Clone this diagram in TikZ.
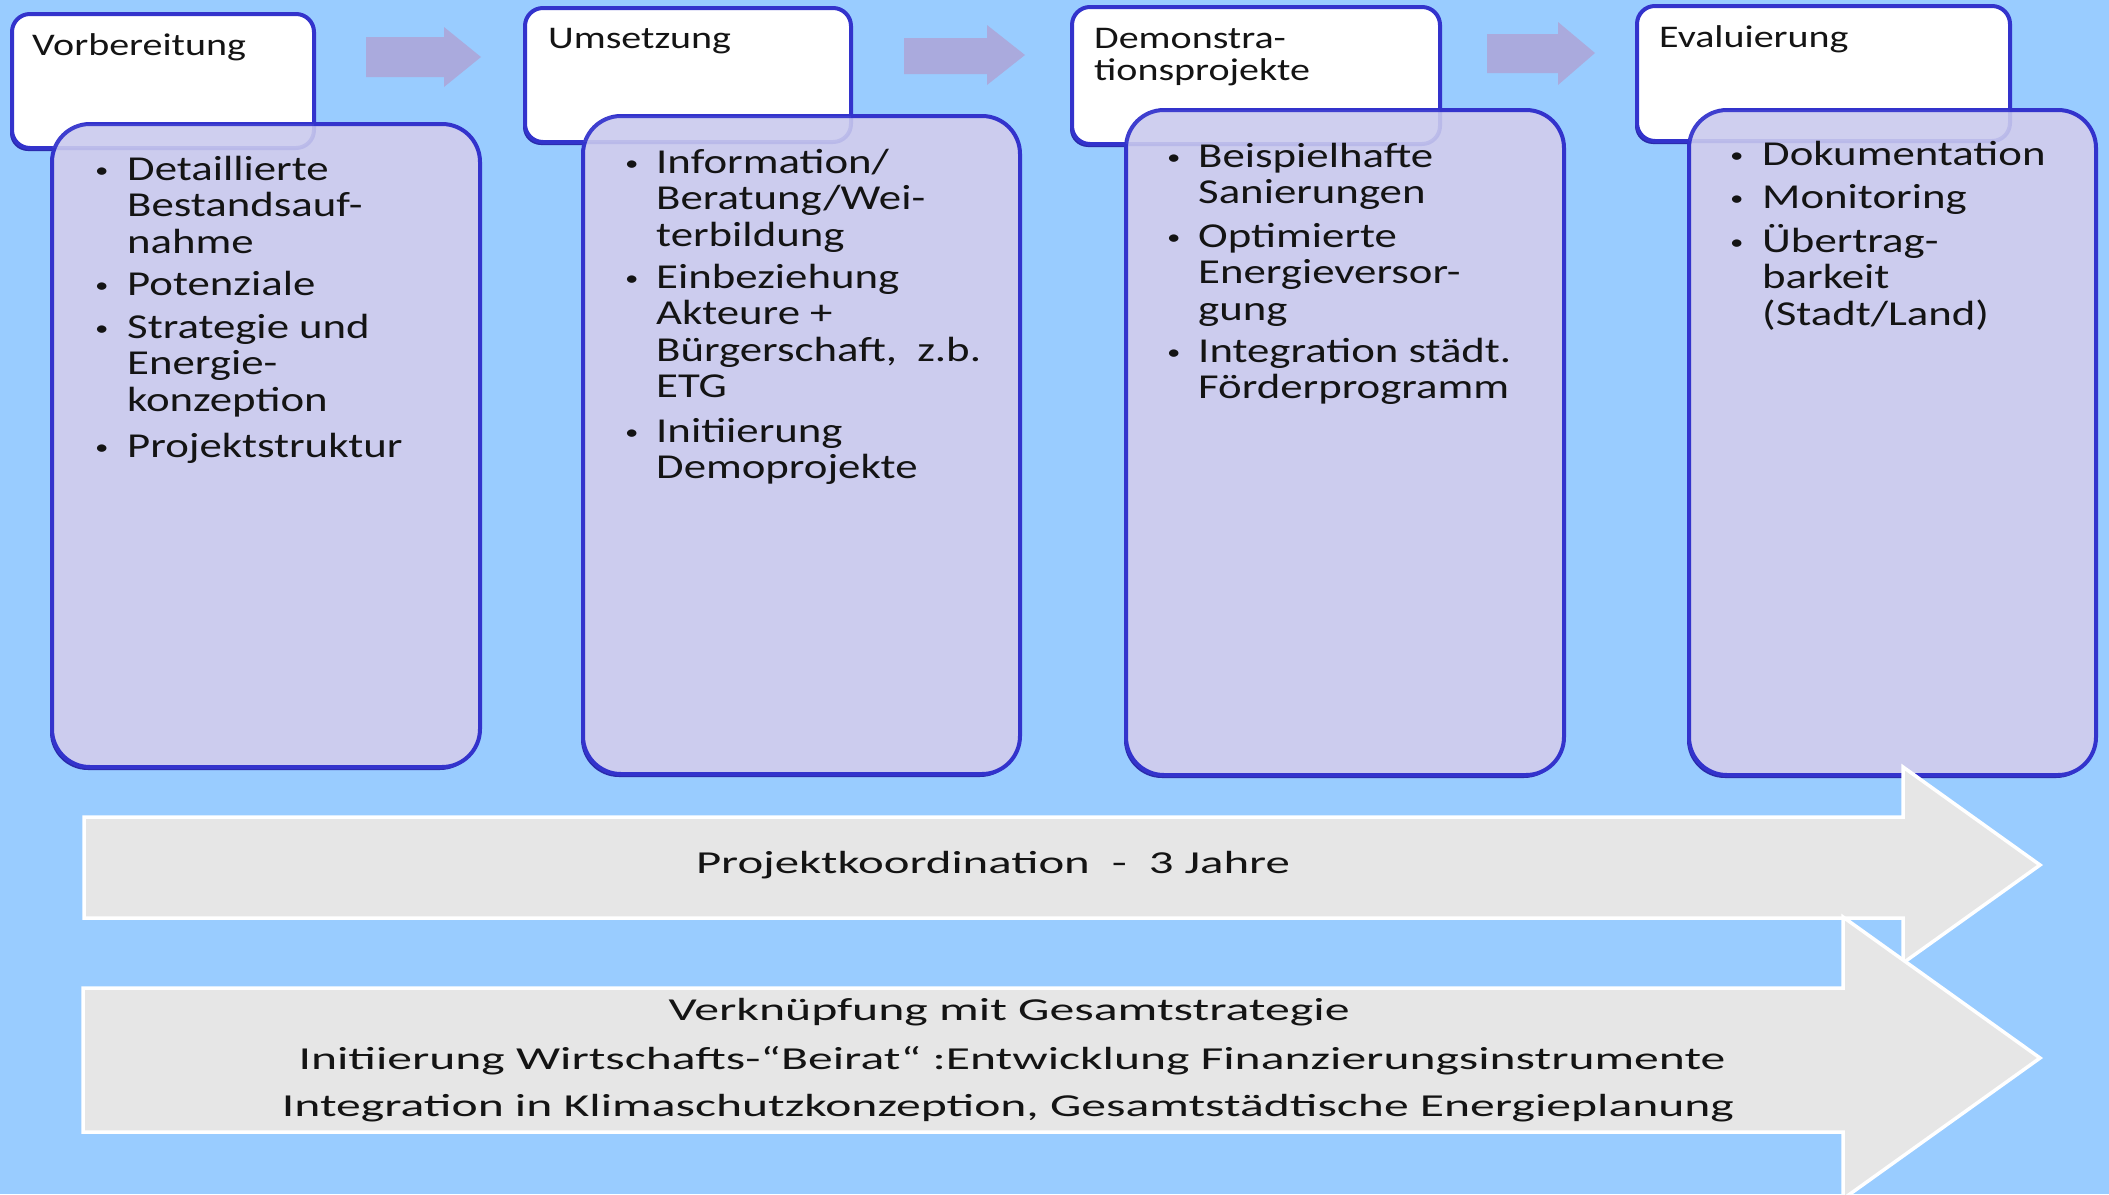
\documentclass[tikz,border=0pt]{standalone}
\usepackage{fontspec}
\usepackage{graphicx}
\usetikzlibrary{shadows}
\newfontfamily\labfont{Carlito}[FakeStretch=1.27]
\newfontfamily\itmfont{Carlito}[FakeStretch=1.28]
\newfontfamily\arrfont{Carlito}
\definecolor{bgblue}{HTML}{99CCFF}
\definecolor{boxblue}{HTML}{3333CC}
\definecolor{boxdark}{HTML}{2A2AAA}
\definecolor{lav}{HTML}{CCCCEE}
\definecolor{arrpurple}{HTML}{AAAADD}
\definecolor{arrgrey}{HTML}{E6E6E6}
\definecolor{txt}{HTML}{141414}
\newcommand\itm[1]{\begin{tabular}[t]{@{}l@{}}#1\end{tabular}}
\newcommand\bul[2]{\makebox[#1][l]{\hspace{3pt}\raisebox{3pt}{\scalebox{0.6}{\textbullet}}}\itm{#2}}
\tikzset{
  topbox/.style={fill=white, draw=boxblue, line width=4pt, rounded corners=18pt,
    inner sep=0pt, outer sep=0pt, anchor=north west,
    drop shadow={shadow xshift=-2pt, shadow yshift=-3pt, fill=boxdark, opacity=1}},
  ghost/.style={draw=boxblue, draw opacity=0.12, fill=white, fill opacity=0.06, line width=4pt, rounded corners=18pt},
  contbox/.style={fill=lav, draw=boxblue, line width=4pt, rounded corners=38pt,
    inner sep=0pt, outer sep=0pt, anchor=north west,
    drop shadow={shadow xshift=-2pt, shadow yshift=-3pt, fill=boxdark, opacity=1}},
  lbl/.style={inner sep=0pt, anchor=base west, text=txt, font=\labfont\fontsize{31.5}{32}\selectfont},
  itemtxt/.style={inner sep=0pt, anchor=base west, text=txt, font=\itmfont\fontsize{35}{36.5}\selectfont},
  smallarr/.style={fill=arrpurple},
  bigarr/.style={fill=arrgrey, draw=white, line width=3.5pt, line join=miter},
  arrtxt/.style={inner sep=0pt, anchor=base, text=txt, font=\arrfont\fontsize{32}{34}\selectfont}
}
\begin{document}
\begin{tikzpicture}[x=1pt,y=-1pt]
\useasboundingbox (0,0) rectangle (2109,1194);
\clip (0,0) rectangle (2109,1194);
\fill[bgblue] (0,0) rectangle (2109,1194);

% small process arrows
\fill[smallarr] (366,37) -- (444,37) -- (444,27) -- (481,57) -- (444,87) -- (444,77) -- (366,77) -- cycle;
\fill[smallarr] (904,38) -- (987,38) -- (987,25) -- (1025,55) -- (987,85) -- (987,74) -- (904,74) -- cycle;
\fill[smallarr] (1487,34) -- (1558,34) -- (1558,22) -- (1595,53) -- (1558,85) -- (1558,73) -- (1487,73) -- cycle;

% header boxes
\node[topbox, minimum width=302pt, minimum height=134pt] (tb1) at (12,14) {};
\node[topbox, minimum width=326pt, minimum height=134pt] (tb2) at (525,8) {};
\node[topbox, minimum width=368pt, minimum height=137pt] (tb3) at (1072,7) {};
\node[topbox, minimum width=373pt, minimum height=135pt] (tb4) at (1637,6) {};

\node[lbl] (l1) at (32,55) {Vorbereitung};
\node[lbl] (l2) at (548,48) {Umsetzung};
\node[lbl] (l3) at (1094,48) {\begin{tabular}[t]{@{}l@{}}Demonstra-\\tionsprojekte\end{tabular}};
\node[lbl] (l4) at (1659,47) {Evaluierung};

% content boxes
\node[contbox, minimum width=428pt, minimum height=643pt] (cb1) at (52,124) {};
\node[contbox, minimum width=437pt, minimum height=658pt] (cb2) at (583,116) {};
\node[contbox, minimum width=438pt, minimum height=665pt] (cb3) at (1126,110) {};
\node[contbox, minimum width=407pt, minimum height=665pt] (cb4) at (1689,110) {};

% faint outline of the header boxes seen through the content boxes
\foreach \t/\c in {tb1/cb1, tb2/cb2, tb3/cb3, tb4/cb4}{
  \begin{scope}
    \clip (\c.north west) rectangle (\c.south east);
    \draw[ghost] (\t.north west) rectangle (\t.south east);
  \end{scope}
}

% items box 1
\node[itemtxt] (i11) at (92,180) {\bul{35pt}{Detaillierte\\Bestandsauf-\\nahme}};
\node[itemtxt] (i12) at (92,295) {\bul{35pt}{Potenziale}};
\node[itemtxt] (i13) at (92,338) {\bul{35pt}{Strategie und\\Energie-\\konzeption}};
\node[itemtxt] (i14) at (92,457) {\bul{35pt}{Projektstruktur}};
% items box 2
\node[itemtxt] (i21) at (622,173) {\bul{34pt}{Information/\\Beratung/Wei-\\terbildung}};
\node[itemtxt] (i22) at (622,288) {\bul{34pt}{Einbeziehung\\Akteure +\\Bürgerschaft,\ \ z.b.\\ETG}};
\node[itemtxt] (i23) at (622,442) {\bul{34pt}{Initiierung\\Demoprojekte}};
% items box 3
\node[itemtxt] (i31) at (1164,167) {\bul{34pt}{Beispielhafte\\Sanierungen}};
\node[itemtxt] (i32) at (1164,247) {\bul{34pt}{Optimierte\\Energieversor-\\gung}};
\node[itemtxt] (i33) at (1164,362) {\bul{34pt}{Integration städt.\\Förderprogramm}};
% items box 4
\node[itemtxt] (i41) at (1727,165) {\bul{35pt}{Dokumentation}};
\node[itemtxt] (i42) at (1727,208) {\bul{35pt}{Monitoring}};
\node[itemtxt] (i43) at (1727,252) {\bul{35pt}{Übertrag-\\barkeit\\(Stadt/Land)}};

% big arrows
\draw[bigarr] (84,817) -- (1903,817) -- (1903,767) -- (2040,865) -- (1903,963) -- (1903,918) -- (84,918) -- cycle;
\draw[bigarr] (83,988) -- (1843,988) -- (1843,917) -- (2040,1058) -- (1843,1199) -- (1843,1132) -- (83,1132) -- cycle;

\node[arrtxt] (pk) at (993,873) {\resizebox{594pt}{\height}{Projektkoordination\ \ -\ \ 3 Jahre}};
\node[arrtxt] (g1) at (1009,1020) {\resizebox{681pt}{\height}{Verknüpfung mit Gesamtstrategie}};
\node[arrtxt] (g2) at (1012,1069) {\resizebox{1427pt}{\height}{Initiierung Wirtschafts-“Beirat“ :Entwicklung Finanzierungsinstrumente}};
\node[arrtxt] (g3) at (1008,1116) {\resizebox{1452pt}{\height}{Integration in Klimaschutzkonzeption, Gesamtstädtische Energieplanung}};
\end{tikzpicture}
\end{document}
